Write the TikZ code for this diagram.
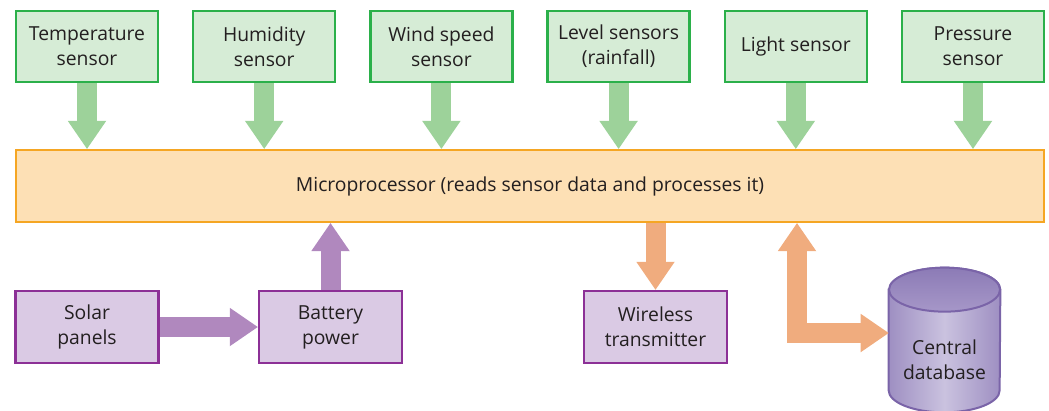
\documentclass[tikz,border=0pt]{standalone}
\usepackage{fontspec}
\setmainfont{Open Sans}
\usepackage{xcolor}
\usepackage{tikz}
\usetikzlibrary{arrows.meta}

\definecolor{inkgrey}{RGB}{35,31,32}
\definecolor{sensorfill}{RGB}{214,236,214}
\definecolor{sensorline}{RGB}{43,176,74}
\definecolor{sensorarrow}{RGB}{157,210,154}
\definecolor{cpufill}{RGB}{253,224,181}
\definecolor{cpuline}{RGB}{245,166,35}
\definecolor{cpuarrow}{RGB}{240,172,126}
\definecolor{powerfill}{RGB}{218,202,228}
\definecolor{powerline}{RGB}{140,48,150}
\definecolor{powerarrow}{RGB}{176,136,190}
\definecolor{dbside}{RGB}{158,143,194}
\definecolor{dbmid}{RGB}{202,194,223}
\definecolor{dbtoptop}{RGB}{140,123,182}
\definecolor{dbtopbot}{RGB}{166,151,200}
\definecolor{dbline}{RGB}{122,100,168}

\begin{document}
\begin{tikzpicture}[x=0.2mm,y=-0.2mm,
  font=\fontsize{11}{14.2}\selectfont,
  sensorbox/.style={draw=sensorline,fill=sensorfill,line width=0.5mm,text=inkgrey,
    minimum width=28.4mm,minimum height=14.2mm,align=center,inner sep=0pt},
  cpubox/.style={draw=cpuline,fill=cpufill,line width=0.45mm,text=inkgrey,
    minimum width=205.6mm,minimum height=14.4mm,inner sep=0pt},
  powerbox/.style={draw=powerline,fill=powerfill,line width=0.5mm,text=inkgrey,
    minimum width=28.6mm,minimum height=14.4mm,align=center,inner sep=0pt},
  fattip/.tip={Triangle[length=5.6mm,width=7.7mm,line width=0pt]},
  greenarrow/.style={draw=sensorarrow,line width=4mm,-fattip},
  orangearrow/.style={draw=cpuarrow,line width=4mm,-fattip},
  purplearrow/.style={draw=powerarrow,line width=4mm,-fattip}]

  \useasboundingbox (0,0) rectangle (1049,410);

  %% ── sensors ──
  \foreach \i/\txt in {1/{Temperature\\sensor},2/{Humidity\\sensor},
      3/{Wind speed\\sensor},4/{Level sensors\\(rainfall)},
      5/{Light sensor},6/{Pressure\\sensor}}
    \node[sensorbox] (s\i) at ({87+177.2*(\i-1)},46.5) {\txt};

  %% ── microprocessor ──
  \node[cpubox] (mp) at (530,186) {Microprocessor (reads sensor data and processes it)};

  \foreach \i in {1,...,6}
    \draw[greenarrow] (s\i.south) -- (s\i.south |- mp.north);

  %% ── power ──
  \node[powerbox] (sp) at (87,327) {Solar\\panels};
  \node[powerbox] (bp) at (330.5,327) {Battery\\power};
  \draw[purplearrow] (sp.east) -- (bp.west);
  \draw[purplearrow] (bp.north) -- (bp.north |- mp.south);

  %% ── output ──
  \node[powerbox] (wt) at (655.5,327) {Wireless\\transmitter};
  \draw[orangearrow] (mp.south -| wt.north) -- (wt.north);

  %% ── database cylinder ──
  \node[minimum width=22.2mm,minimum height=28.8mm,inner sep=0pt] (db) at (944.5,340) {};
  \draw[dbline,line width=0.4mm,left color=dbside,right color=dbside,middle color=dbmid]
    ([yshift=-4.4mm]db.north west) -- ([yshift=4.4mm]db.south west)
    arc[start angle=180,end angle=360,x radius=11.1mm,y radius=4.4mm]
    -- ([yshift=-4.4mm]db.north east)
    arc[start angle=0,end angle=180,x radius=11.1mm,y radius=4.4mm] -- cycle;
  \draw[dbline,line width=0.4mm,top color=dbtoptop,bottom color=dbtopbot]
    ([yshift=-4.4mm]db.north) ellipse[x radius=11.1mm,y radius=4.4mm];
  \node[text=inkgrey,align=center] (dbname) at ([yshift=-4mm]db.center) {Central\\database};

  \coordinate (dbport) at ([yshift=1.4mm]db.west);
  \coordinate (dbturn) at (797,300);
  \draw[orangearrow,fattip-fattip] (dbturn |- mp.south) |- (dbport);
\end{tikzpicture}
\end{document}
